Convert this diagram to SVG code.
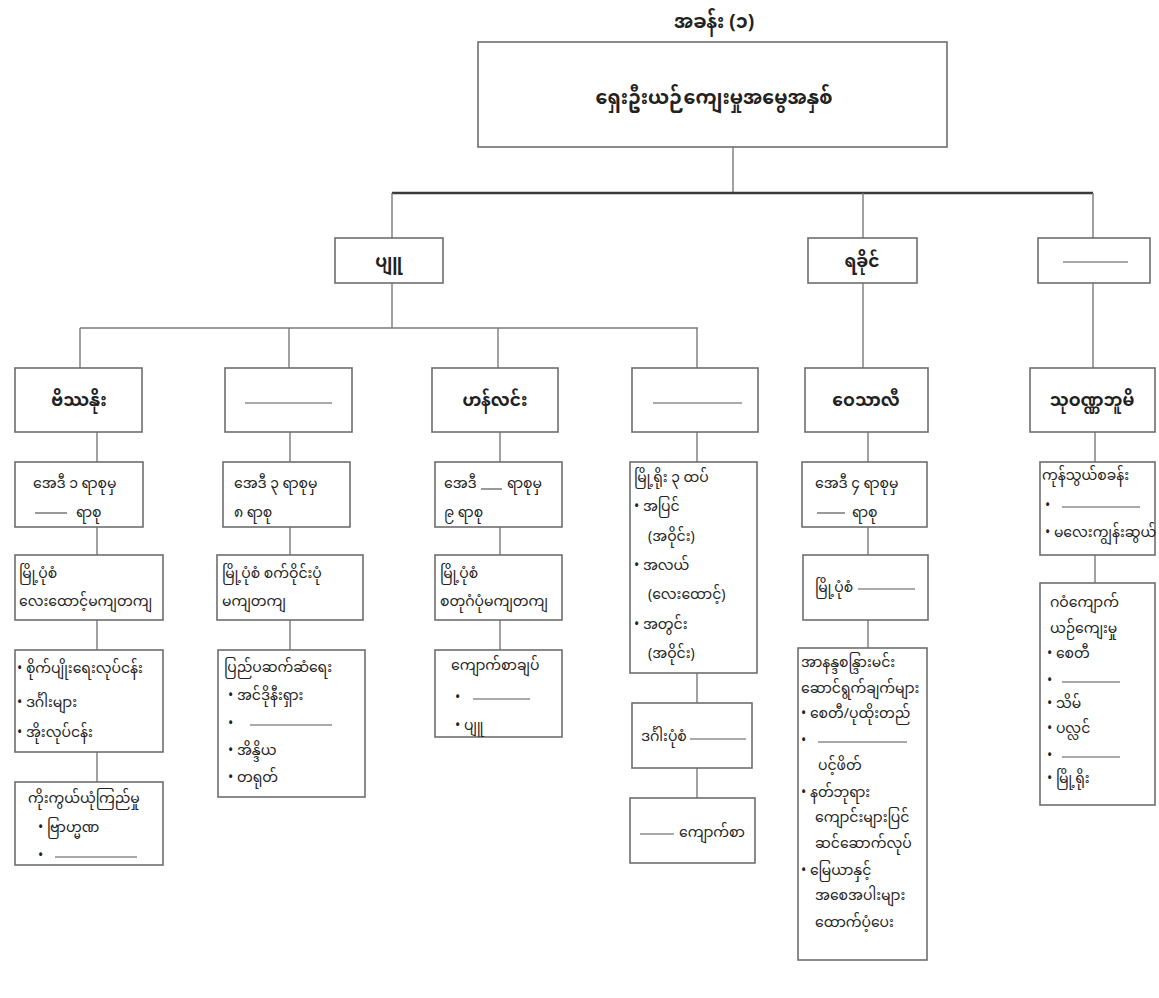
<svg xmlns="http://www.w3.org/2000/svg" width="1159" height="998" viewBox="0 0 1159 998">
<style>
.box{fill:#fff;stroke:#6e6e6e;stroke-width:1.6}
.c{stroke:#7a7a7a;stroke-width:1.4;fill:none}
.main{stroke:#3a3a3a;stroke-width:2.6;fill:none}
.bl{stroke:#555;stroke-width:1.2}
text{font-family:"Noto Sans Myanmar","Padauk","Myanmar Text","Noto Sans",sans-serif;font-size:14px;fill:#222}
.m{text-anchor:middle}
.h{font-size:17px;font-weight:bold}
.top{font-size:19px;font-weight:bold}
</style>
<rect width="1159" height="998" fill="#fff"/>
<g id="connectors">
<path class="c" d="M733 147V193"/>
<path class="main" d="M392 193H1093"/>
<path class="c" d="M392 193V238M863 193V238M1093 193V238"/>
<path class="c" d="M392 283V328M863 283V368M1093 283V368"/>
<path class="c" d="M80 328H698"/>
<path class="c" d="M80 328V368M289 328V368M498 328V368M697 328V368"/>
<path class="c" d="M97 432V462M97 527V555M97 620V650M97 752V782"/>
<path class="c" d="M290 432V462M290 527V555M290 620V650"/>
<path class="c" d="M500 432V462M500 527V555M500 620V650"/>
<path class="c" d="M697 432V462M697 673V703M697 768V798"/>
<path class="c" d="M868 432V462M868 527V555M868 620V648"/>
<path class="c" d="M1095 432V462M1095 555V583"/>
</g>
<g id="title"><text class="top m" x="714" y="28">အခန်း (၁)</text></g>
<g id="n-root"><rect class="box" x="478" y="42" width="469" height="105"/><text class="top m" x="714" y="104">ရှေးဦးယဉ်ကျေးမှုအမွေအနှစ်</text></g>
<g id="n-pyu"><rect class="box" x="335" y="238" width="108" height="45"/><text class="h m" x="389" y="267">ပျူ</text></g>
<g id="n-rakhine"><rect class="box" x="808" y="238" width="109" height="45"/><text class="h m" x="862" y="267">ရခိုင်</text></g>
<g id="n-blank1"><rect class="box" x="1038" y="238" width="112" height="45"/><line class="bl" x1="1063" y1="262" x2="1128" y2="262"/></g>
<g id="n-beikthano"><rect class="box" x="15" y="368" width="127" height="64"/><text class="h m" x="79" y="406">ဗိဿနိုး</text></g>
<g id="n-blank2"><rect class="box" x="225" y="368" width="127" height="64"/><line class="bl" x1="245" y1="403" x2="332" y2="403"/></g>
<g id="n-halin"><rect class="box" x="432" y="368" width="126" height="64"/><text class="h m" x="495" y="406">ဟန်လင်း</text></g>
<g id="n-blank3"><rect class="box" x="632" y="368" width="126" height="64"/><line class="bl" x1="653" y1="403" x2="742" y2="403"/></g>
<g id="n-vesali"><rect class="box" x="805" y="368" width="123" height="64"/><text class="h m" x="866" y="406">ဝေသာလီ</text></g>
<g id="n-suvanna"><rect class="box" x="1030" y="368" width="125" height="64"/><text class="h m" x="1092" y="406">သုဝဏ္ဏဘူမိ</text></g>

<g id="c1a"><rect class="box" x="15" y="462" width="128" height="65"/><text x="33" y="488">အေဒီ ၁ ရာစုမှ</text><line class="bl" x1="35" y1="513" x2="67" y2="513"/><text x="76" y="517">ရာစု</text></g>
<g id="c1b"><rect class="box" x="15" y="555" width="148" height="65"/><text x="19" y="578">မြို့ပုံစံ</text><text x="19" y="606">လေးထောင့်မကျတကျ</text></g>
<g id="c1c"><rect class="box" x="15" y="650" width="148" height="102"/><text x="17" y="673">• စိုက်ပျိုးရေးလုပ်ငန်း</text><text x="17" y="707">• ဒင်္ဂါးများ</text><text x="17" y="737">• အိုးလုပ်ငန်း</text></g>
<g id="c1d"><rect class="box" x="15" y="782" width="148" height="83"/><text x="28" y="803">ကိုးကွယ်ယုံကြည်မှု</text><text x="38" y="832">• ဗြာဟ္မဏ</text><text x="38" y="860">•</text><line class="bl" x1="55" y1="857" x2="137" y2="857"/></g>

<g id="c2a"><rect class="box" x="223" y="462" width="127" height="65"/><text x="234" y="488">အေဒီ ၃ ရာစုမှ</text><text x="234" y="517">၈ ရာစု</text></g>
<g id="c2b"><rect class="box" x="217" y="555" width="146" height="65"/><text x="222" y="578">မြို့ပုံစံ စက်ဝိုင်းပုံ</text><text x="222" y="606">မကျတကျ</text></g>
<g id="c2c"><rect class="box" x="218" y="650" width="147" height="147"/><text x="224" y="672">ပြည်ပဆက်ဆံရေး</text><text x="228" y="700">• အင်ဒိုနီးရှား</text><text x="228" y="728">•</text><line class="bl" x1="250" y1="725" x2="332" y2="725"/><text x="228" y="755">• အိန္ဒိယ</text><text x="228" y="782">• တရုတ်</text></g>

<g id="c3a"><rect class="box" x="435" y="462" width="127" height="65"/><text x="444" y="488">အေဒီ</text><line class="bl" x1="481" y1="489" x2="502" y2="489"/><text x="507" y="488">ရာစုမှ</text><text x="444" y="517">၉ ရာစု</text></g>
<g id="c3b"><rect class="box" x="435" y="555" width="127" height="65"/><text x="440" y="578">မြို့ပုံစံ</text><text x="440" y="606">စတုဂံပုံမကျတကျ</text></g>
<g id="c3c"><rect class="box" x="435" y="650" width="127" height="87"/><text x="451" y="670">ကျောက်စာချပ်</text><text x="455" y="702">•</text><line class="bl" x1="473" y1="699" x2="530" y2="699"/><text x="455" y="730">• ပျူ</text></g>

<g id="c4a"><rect class="box" x="630" y="462" width="127" height="211"/><text x="634" y="482">မြို့ရိုး ၃ ထပ်</text><text x="634" y="511">• အပြင်</text><text x="648" y="541">(အဝိုင်း)</text><text x="634" y="570">• အလယ်</text><text x="648" y="599">(လေးထောင့်)</text><text x="634" y="629">• အတွင်း</text><text x="648" y="658">(အဝိုင်း)</text></g>
<g id="c4b"><rect class="box" x="632" y="703" width="120" height="65"/><text x="641" y="741">ဒင်္ဂါးပုံစံ</text><line class="bl" x1="690" y1="739" x2="746" y2="739"/></g>
<g id="c4c"><rect class="box" x="630" y="798" width="125" height="65"/><line class="bl" x1="640" y1="834" x2="674" y2="834"/><text x="679" y="837">ကျောက်စာ</text></g>

<g id="c5a"><rect class="box" x="802" y="462" width="125" height="65"/><text x="815" y="488">အေဒီ ၄ ရာစုမှ</text><line class="bl" x1="817" y1="513" x2="845" y2="513"/><text x="852" y="517">ရာစု</text></g>
<g id="c5b"><rect class="box" x="803" y="555" width="125" height="65"/><text x="815" y="592">မြို့ပုံစံ</text><line class="bl" x1="858" y1="589" x2="915" y2="589"/></g>
<g id="c5c"><rect class="box" x="798" y="648" width="129" height="312"/>
<text x="801" y="667">အာနန္ဒစန္ဒြားမင်း</text>
<text x="801" y="693">ဆောင်ရွက်ချက်များ</text>
<text x="801" y="718">• စေတီ/ပုထိုးတည်</text>
<text x="801" y="745">•</text><line class="bl" x1="818" y1="742" x2="907" y2="742"/>
<text x="818" y="770">ပင့်ဖိတ်</text>
<text x="801" y="797">• နတ်ဘုရား</text>
<text x="815" y="822">ကျောင်းများပြင်</text>
<text x="815" y="848">ဆင်ဆောက်လုပ်</text>
<text x="801" y="875">• မြေယာနှင့်</text>
<text x="815" y="900">အစေအပါးများ</text>
<text x="815" y="927">ထောက်ပံ့ပေး</text></g>

<g id="c6a"><rect class="box" x="1040" y="462" width="115" height="93"/><text x="1042" y="480">ကုန်သွယ်စခန်း</text><text x="1045" y="510">•</text><line class="bl" x1="1062" y1="507" x2="1140" y2="507"/><text x="1045" y="537">• မလေးကျွန်းဆွယ်</text></g>
<g id="c6b"><rect class="box" x="1040" y="583" width="115" height="222"/>
<text x="1050" y="607">ဂဝံကျောက်</text>
<text x="1050" y="633">ယဉ်ကျေးမှု</text>
<text x="1047" y="658">• စေတီ</text>
<text x="1047" y="685">•</text><line class="bl" x1="1062" y1="682" x2="1120" y2="682"/>
<text x="1047" y="708">• သိမ်</text>
<text x="1047" y="733">• ပလ္လင်</text>
<text x="1047" y="760">•</text><line class="bl" x1="1062" y1="757" x2="1120" y2="757"/>
<text x="1047" y="783">• မြို့ရိုး</text></g>
</svg>
